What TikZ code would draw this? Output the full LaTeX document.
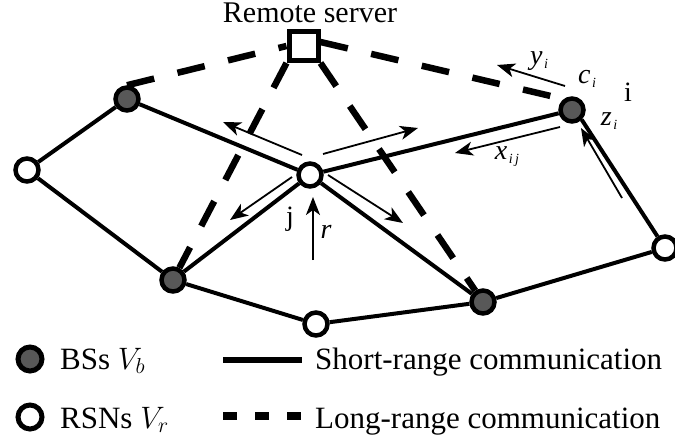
\RequirePackage{fix-cm}
\documentclass[tikz,border=0pt]{standalone}
\usepackage{fontspec}
\setmainfont{Liberation Serif}
\usetikzlibrary{arrows.meta,calc,backgrounds}
\definecolor{bsgray}{RGB}{88,88,88}
\newcommand\lblsub[1]{\kern1.5pt\raisebox{-4pt}{\fontsize{14}{14}\selectfont #1}}

\begin{document}
\begin{tikzpicture}[x=1pt,y=-1pt,
  short/.style={line width=4pt},
  long/.style={line width=6.5pt, dash pattern=on 28pt off 24pt},
  flow/.style={line width=1.8pt, -{Stealth[length=18pt,width=14pt,inset=5pt]}},
  bs/.style={circle, draw, line width=4.5pt, fill=bsgray, minimum size=23pt, inner sep=0pt},
  rsn/.style={circle, draw, line width=4.5pt, fill=white, minimum size=23pt, inner sep=0pt},
  lbl/.style={font=\fontsize{28}{30}\selectfont, inner sep=0pt},
  txt/.style={font=\fontsize{31}{36}\selectfont, inner sep=0pt},
]
\useasboundingbox (0,0) rectangle (675,439);

% server
\node[draw, line width=5pt, fill=white, minimum size=29pt, inner sep=0pt] (S) at (303.5,46) {};
\node[txt, font=\fontsize{30}{34}\selectfont, anchor=base] (St) at (310,23) {Remote server};

% base stations and road-side nodes
\node[bs]  (A) at (127,99) {};
\node[rsn] (L) at (27,170) {};
\node[bs]  (B) at (173,280) {};
\node[rsn] (J) at (310,175) {};
\node[rsn] (M) at (316,324) {};
\node[bs]  (C) at (483,302) {};
\node[bs]  (I) at (572,110) {};
\node[rsn] (R) at (665,248) {};

% links, kept beneath the nodes
\begin{scope}[on background layer]
\draw[long] (A.north) -- (S.west);
\draw[long] ($(S.east)+(0,-4)$) -- ($(I)+(0,-9)$);
\draw[long] (S.south west) -- (B);
\draw[long] (S.south east) -- (C);

\draw[short] (L) -- (A);
\draw[short] (L) -- (B);
\draw[short] (A) -- (J);
\draw[short] (B) -- (J);
\draw[short] (J) -- (I);
\draw[short] (J) -- (C);
\draw[short] (B) -- (M);
\draw[short] (M) -- (C);
\draw[short] (C) -- (R);
\draw[short] (R) -- (I.south east);
\end{scope}

% flow arrows
\coordinate (y0) at (565,86);  \coordinate (y1) at (497,65);
\coordinate (x0) at (560,127); \coordinate (x1) at (455,153);
\coordinate (z0) at (622,198); \coordinate (z1) at (581,128);
\coordinate (ul0) at (302,155); \coordinate (ul1) at (223,122);
\coordinate (ur0) at (323,154); \coordinate (ur1) at (418,128);
\coordinate (dl0) at (292,177); \coordinate (dl1) at (230,220);
\coordinate (dr0) at (328,175); \coordinate (dr1) at (403,223);
\coordinate (r0) at (313,260);  \coordinate (r1) at (313,197);

\draw[flow] (y0) -- (y1);
\draw[flow] (x0) -- (x1);
\draw[flow] (z0) -- (z1);
\draw[flow] (ul0) -- (ul1);
\draw[flow] (ur0) -- (ur1);
\draw[flow] (dl0) -- (dl1);
\draw[flow] (dr0) -- (dr1);
\draw[flow] (r0) -- (r1);

% labels
\node[lbl] (ly) at (539,61) {\itshape y\lblsub{i}};
\node[lbl] (lc) at (587,79) {\itshape c\lblsub{i}};
\node[lbl] (li) at (628,92) {i};
\node[lbl] (lz) at (609,121) {\itshape z\lblsub{i}};
\node[lbl] (lx) at (507,157) {\itshape x\lblsub{i\,j}};
\node[lbl] (lj) at (290,219) {j};
\node[lbl] (lr) at (326,232) {\itshape r};

% legend
\node[bs, line width=5pt, minimum size=24pt] (kb) at (30,359) {};
\node[rsn, line width=5pt, minimum size=24pt] (kr) at (30,417) {};
\node[txt, anchor=base west] (tb) at (60,369) {BSs $V_b$};
\node[txt, anchor=base west] (tr) at (60,428) {RSNs $V_r$};
\coordinate (ks0) at (223,360); \coordinate (ks1) at (302,360);
\coordinate (kl0) at (223,416); \coordinate (kl1) at (302,416);
\draw[line width=6pt] (ks0) -- (ks1);
\draw[line width=8pt, dash pattern=on 14pt off 18pt] (kl0) -- (kl1);
\node[txt, anchor=base west] (ts) at (315,369) {Short-range communication};
\node[txt, anchor=base west] (tl) at (315,428) {Long-range communication};
\end{tikzpicture}
\end{document}
